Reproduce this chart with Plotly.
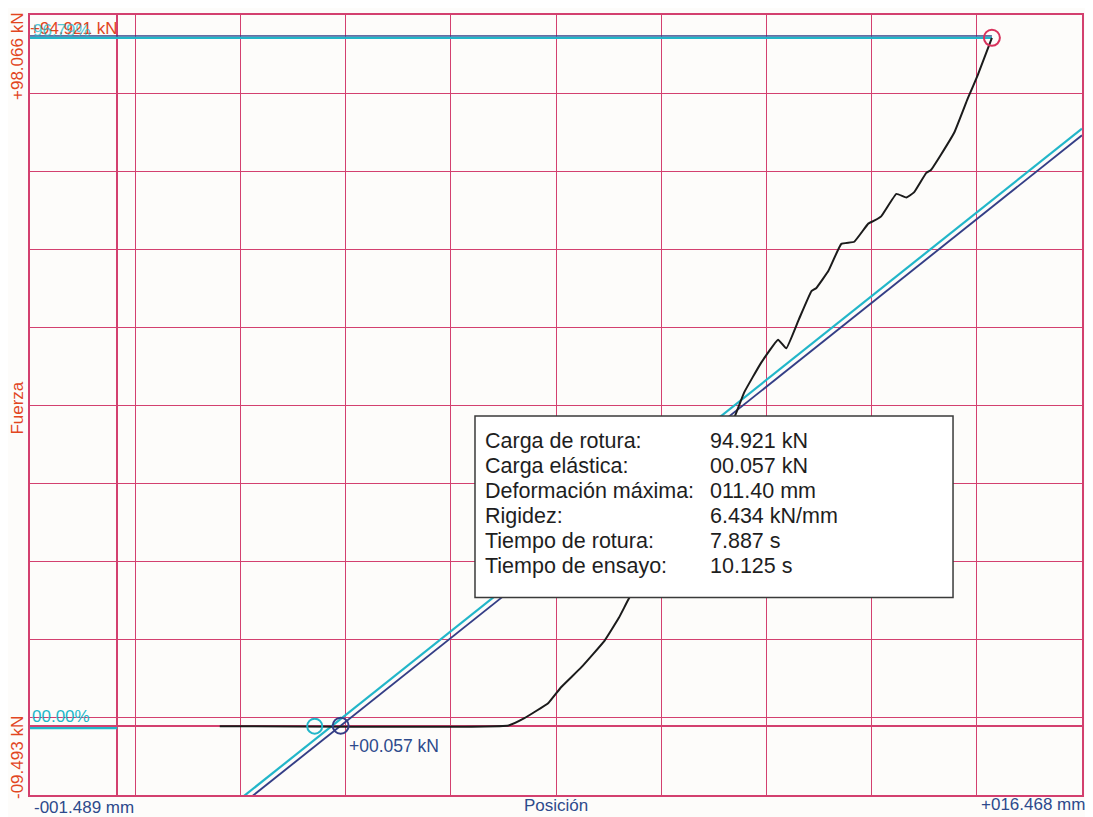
import plotly.graph_objects as go

# ---- data ----
x_range = [-1.489, 16.468]          # Posición (mm)
y_range = [-9.493, 98.066]          # Fuerza (kN)

posicion = [1.75, 6.68, 6.95, 7.36, 7.58, 7.92, 8.32, 8.56, 8.74, 10.52, 10.70,
            10.99, 11.28, 11.42, 11.63, 11.85, 11.93, 12.14, 12.36, 12.58, 12.82,
            12.92, 13.04, 13.30, 13.47, 13.60, 13.81, 13.89, 14.06, 14.29, 14.52,
            14.69, 14.93]
fuerza = [0.0, 0.1, 1.1, 3.2, 5.4, 8.1, 11.8, 14.9, 17.7, 42.3, 46.0,
          50.1, 53.3, 52.1, 56.0, 60.0, 60.4, 62.8, 66.5, 66.8, 69.3,
          69.7, 70.3, 73.4, 72.9, 73.6, 76.3, 76.7, 78.8, 81.9, 86.6,
          89.8, 94.921]

carga_rotura = 94.921
carga_elastica = 0.057
pos_elastica = 3.814
pos_offset = 3.371
rigidez = 6.434
pos_cian = 3.66

info_labels = ["Carga de rotura:", "Carga elástica:", "Deformación máxima:",
               "Rigidez:", "Tiempo de rotura:", "Tiempo de ensayo:"]
info_values = ["94.921 kN", "00.057 kN", "011.40 mm", "6.434 kN/mm",
               "7.887 s", "10.125 s"]

# ---- styles ----
PINK = "#d3406f"
ORANGE = "#e2461f"
NAVY = "#2d4a8c"
CYAN = "#22b6c9"
DNAVY = "#343e86"
FONT = "Liberation Sans, Arial, sans-serif"

nx = 10
xt = [x_range[0] + k * (x_range[1] - x_range[0]) / nx for k in range(nx + 1)]
yt = [y_range[0] + k * (y_range[1] - y_range[0]) / nx for k in range(nx + 1)]

fig = go.Figure()

def line_y(x, x0):
    return rigidez * (x - x0)

lx = [x_range[0], x_range[1]]
fig.add_trace(go.Scatter(x=lx, y=[line_y(v, pos_cian) for v in lx], mode="lines",
                         line=dict(color=CYAN, width=2.2), hoverinfo="skip"))
fig.add_trace(go.Scatter(x=lx, y=[carga_elastica + line_y(v, pos_elastica) for v in lx],
                         mode="lines", line=dict(color=DNAVY, width=1.9), hoverinfo="skip"))

# peak horizontal line
off = (y_range[1] - y_range[0]) * 0.0025
fig.add_trace(go.Scatter(x=[x_range[0], posicion[-1]], y=[carga_rotura, carga_rotura],
                         mode="lines", line=dict(color=CYAN, width=2.4), hoverinfo="skip"))
fig.add_trace(go.Scatter(x=[x_range[0], posicion[-1]], y=[carga_rotura + off, carga_rotura + off],
                         mode="lines", line=dict(color=DNAVY, width=1.2), hoverinfo="skip"))
# zero-percent line
fig.add_trace(go.Scatter(x=[x_range[0], 0], y=[-off, -off],
                         mode="lines", line=dict(color=CYAN, width=2.4), hoverinfo="skip"))

# main curve
fig.add_trace(go.Scatter(x=posicion, y=fuerza, mode="lines",
                         line=dict(color="#1b1b1b", width=2, shape="spline", smoothing=0.3),
                         hoverinfo="skip"))

# markers
fig.add_trace(go.Scatter(x=[posicion[-1]], y=[carga_rotura], mode="markers",
                         marker=dict(symbol="circle-open", size=16, color="#d8325c",
                                     line=dict(width=2)), hoverinfo="skip"))
fig.add_trace(go.Scatter(x=[pos_elastica], y=[carga_elastica], mode="markers",
                         marker=dict(symbol="circle-open", size=16, color=DNAVY,
                                     line=dict(width=2)), hoverinfo="skip"))
fig.add_trace(go.Scatter(x=[pos_offset], y=[0], mode="markers",
                         marker=dict(symbol="circle-open", size=15, color=CYAN,
                                     line=dict(width=2)), hoverinfo="skip"))

axis_common = dict(showticklabels=False, ticks="", showgrid=True, gridcolor=PINK,
                   gridwidth=1.3, zeroline=True, zerolinecolor=PINK, zerolinewidth=1.5,
                   showline=True, linecolor=PINK, linewidth=1.5, mirror=True)

# page body has an 8px margin: size/margins compensate for it
fig.update_layout(
    width=1085, height=809,
    margin=dict(l=22, r=11, t=5, b=22),
    paper_bgcolor="#fdfcfa", plot_bgcolor="#fdfcfa",
    showlegend=False,
    xaxis=dict(range=x_range, tickmode="array", tickvals=xt, **axis_common),
    yaxis=dict(range=y_range, tickmode="array", tickvals=yt, **axis_common),
    font=dict(family=FONT),
)

# info box
fig.add_shape(type="rect", xref="paper", yref="paper", x0=0.423, x1=0.8774,
              y0=0.2532, y1=0.4859, fillcolor="white", line=dict(color="#3a3a3a", width=1.5),
              layer="above")
y_first, dy = 0.454, 0.0322
for i, (lab, val) in enumerate(zip(info_labels, info_values)):
    yy = y_first - i * dy
    fig.add_annotation(xref="paper", yref="paper", x=0.4306, y=yy, xanchor="left",
                       yanchor="middle", showarrow=False, text=lab,
                       font=dict(size=21.5, color="#1e1e1e", family=FONT))
    fig.add_annotation(xref="paper", yref="paper", x=0.6445, y=yy, xanchor="left",
                       yanchor="middle", showarrow=False, text=val,
                       font=dict(size=21.5, color="#1e1e1e", family=FONT))

# axis labels
LBL = 17
fig.add_annotation(xref="paper", yref="paper", x=0, y=0, xanchor="left", yanchor="top",
                   yshift=-1, xshift=2, showarrow=False, text="-001.489 mm",
                   font=dict(size=LBL, color=NAVY))
fig.add_annotation(xref="paper", yref="paper", x=1, y=0, xanchor="right", yanchor="top",
                   yshift=2, xshift=5, showarrow=False, text="+016.468 mm",
                   font=dict(size=LBL, color=NAVY))
fig.add_annotation(xref="paper", yref="paper", x=0.5, y=0, xanchor="center", yanchor="top",
                   yshift=1, showarrow=False, text="Posición",
                   font=dict(size=LBL, color=NAVY))
fig.add_annotation(xref="paper", yref="paper", x=0, y=1, xanchor="right", yanchor="top",
                   xshift=-1, yshift=4, textangle=-90, showarrow=False, text="+98.066 kN",
                   font=dict(size=LBL, color=ORANGE))
fig.add_annotation(xref="paper", yref="paper", x=0, y=0, xanchor="right", yanchor="bottom",
                   xshift=-1, yshift=-6, textangle=-90, showarrow=False, text="-09.493 kN",
                   font=dict(size=LBL, color=ORANGE))
fig.add_annotation(xref="paper", yref="paper", x=0, y=0.496, xanchor="right", yanchor="middle",
                   xshift=-1, textangle=-90, showarrow=False, text="Fuerza",
                   font=dict(size=LBL, color=ORANGE))

# in-plot labels
fig.add_annotation(x=x_range[0], y=carga_rotura, xanchor="left", yanchor="bottom",
                   xshift=-2, yshift=-2, showarrow=False, text="+94.921 kN",
                   font=dict(size=LBL, color=ORANGE))
fig.add_annotation(x=x_range[0], y=carga_rotura, xanchor="left", yanchor="bottom",
                   xshift=1, yshift=-4, showarrow=False, text="96.79%",
                   font=dict(size=LBL, color=CYAN), opacity=0.75)
fig.add_annotation(x=x_range[0], y=0, xanchor="left", yanchor="bottom",
                   xshift=0, yshift=-2, showarrow=False, text="00.00%",
                   font=dict(size=LBL, color=CYAN))
fig.add_annotation(x=pos_elastica, y=carga_elastica, xanchor="left", yanchor="top",
                   xshift=6, yshift=-8, showarrow=False, text="+00.057 kN",
                   font=dict(size=17.5, color=NAVY))

fig.write_html("out.html")
